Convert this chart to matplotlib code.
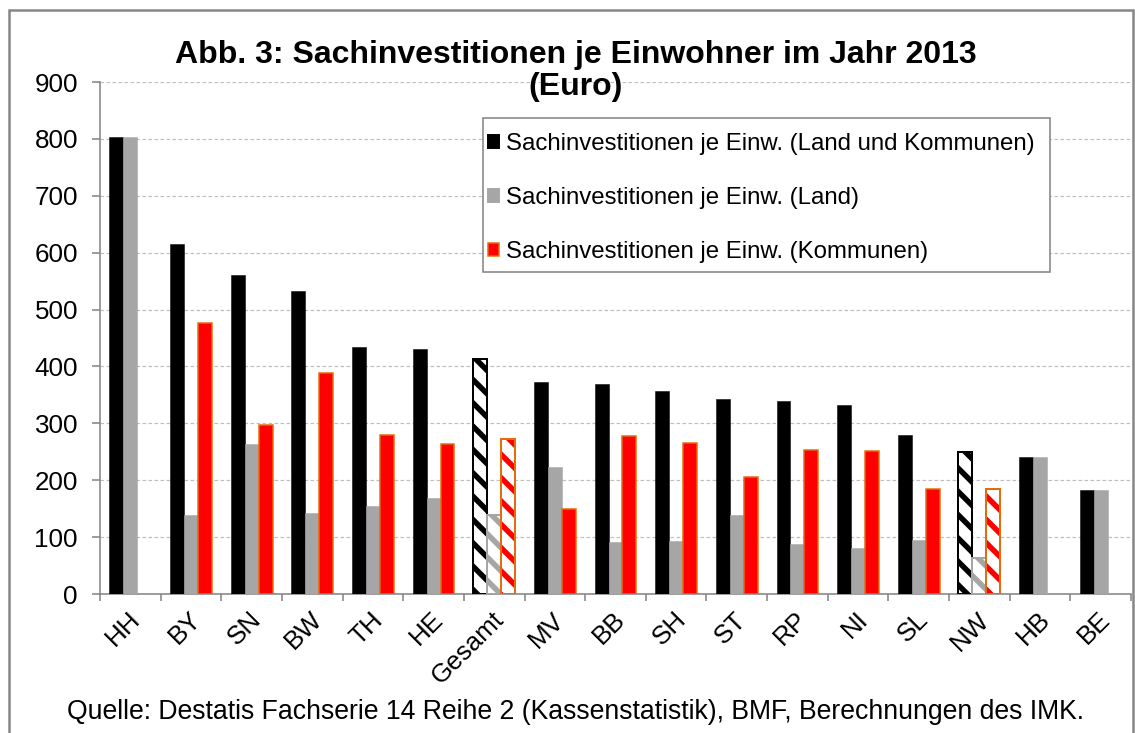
import numpy as np
import matplotlib
matplotlib.use("Agg")
import matplotlib.pyplot as plt
from matplotlib.patches import Rectangle, Patch
from matplotlib.transforms import ScaledTranslation

# ==== Daten ====
laender = ["HH", "BY", "SN", "BW", "TH", "HE", "Gesamt", "MV", "BB", "SH",
           "ST", "RP", "NI", "SL", "NW", "HB", "BE"]
land_und_kommunen = [804, 615, 561, 533, 435, 431, 413, 372, 370, 357,
                     343, 340, 333, 280, 250, 241, 183]
land = [804, 138, 263, 143, 155, 168, 139, 224, 92, 93,
        139, 88, 81, 95, 64, 241, 183]
kommunen = [np.nan, 476, 297, 388, 279, 263, 272, 150, 278, 265,
            205, 253, 252, 184, 185, np.nan, np.nan]
schraffiert = ["Gesamt", "NW"]

title = "Abb. 3: Sachinvestitionen je Einwohner im Jahr 2013\n(Euro)"
quelle = "Quelle: Destatis Fachserie 14 Reihe 2 (Kassenstatistik), BMF, Berechnungen des IMK."
labels = ["Sachinvestitionen je Einw. (Land und Kommunen)",
          "Sachinvestitionen je Einw. (Land)",
          "Sachinvestitionen je Einw. (Kommunen)"]

# ==== Stil ====
DPI = 140
W, H = 1135, 733
def px(n):
    return n * 72.0 / DPI

plt.rcParams['font.family'] = ['Liberation Sans', 'DejaVu Sans']
plt.rcParams['hatch.linewidth'] = px(5.5)

SCHWARZ = "#000000"
GRAU = "#A6A6A6"
ROT = "#FF0000"
ORANGE = "#E46C0A"
ACHSE = "#868686"

fig = plt.figure(figsize=(W / DPI, H / DPI), dpi=DPI)
ax = fig.add_axes([100 / W, 1 - 594 / H, (1131 - 100) / W, (594 - 82) / H])

x = np.arange(len(laender))
bw = 0.23
offs = [-bw, 0, bw]
serien = [land_und_kommunen, land, kommunen]
farben = [SCHWARZ, GRAU, ROT]
kanten = [SCHWARZ, GRAU, ORANGE]

for s, (werte, fc, ec, off) in enumerate(zip(serien, farben, kanten, offs)):
    for i, (name, v) in enumerate(zip(laender, werte)):
        if np.isnan(v):
            continue
        if name in schraffiert:
            # weisse Fuellung mit Schraffur in Serienfarbe
            ax.bar(x[i] + off, v, bw, color="white", edgecolor=fc,
                   hatch="\\\\", linewidth=0, zorder=3)
            ax.bar(x[i] + off, v, bw, fill=False, edgecolor=ec,
                   linewidth=px(2), zorder=4)
        else:
            ax.bar(x[i] + off, v, bw, color=fc, edgecolor=ec,
                   linewidth=px(1.5) if s == 2 else px(0.5), zorder=3)

ax.set_xlim(-0.5, len(laender) - 0.5)
ax.set_ylim(0, 900)
ax.set_yticks(np.arange(0, 901, 100))
ax.yaxis.grid(True, color="#BFBFBF", linestyle=(0, (3, 2)), linewidth=px(1.2), zorder=0)
ax.set_axisbelow(True)

for sp in ["top", "right"]:
    ax.spines[sp].set_visible(False)
for sp in ["left", "bottom"]:
    ax.spines[sp].set_color(ACHSE)
    ax.spines[sp].set_linewidth(px(1.6))

ax.set_xticks(x)
ax.set_xticks(np.arange(-0.5, len(laender), 1), minor=True)
ax.tick_params(axis="x", which="major", length=0, pad=px(22))
ax.tick_params(axis="x", which="minor", length=px(7), width=px(1.6),
               color=ACHSE, direction="out")
ax.tick_params(axis="y", length=px(8), width=px(1.6), color=ACHSE,
               pad=px(14), labelsize=px(26))
ax.set_xticklabels(laender, rotation=45, ha="right", va="center",
                   rotation_mode="anchor", fontsize=px(26))
verschiebung = ScaledTranslation(6 / DPI, 0, fig.dpi_scale_trans)
for lab in ax.get_xticklabels():
    lab.set_transform(lab.get_transform() + verschiebung)

fig.text(0.507, 1 - 71 / H, title, ha="center", va="center",
         fontsize=px(32), fontweight="bold", linespacing=1.08)
fig.text(575 / W, 1 - 712 / H, quelle, ha="center", va="center", fontsize=px(26.7))

# Rahmen um die ganze Grafik
fig.patches.append(Rectangle((9 / W, -0.05), (1133 - 9) / W, (1 - 10 / H) + 0.05,
                             transform=fig.transFigure, fill=False,
                             edgecolor=ACHSE, linewidth=px(2.5)))

# Legendenrahmen
fig.patches.append(Rectangle((483 / W, 1 - 272 / H), (1050 - 483) / W, (272 - 118) / H,
                             transform=fig.transFigure, facecolor="white",
                             edgecolor=ACHSE, linewidth=px(1.6), zorder=5))

handles = [Patch(facecolor=SCHWARZ, edgecolor=SCHWARZ),
           Patch(facecolor=GRAU, edgecolor=GRAU),
           Patch(facecolor=ROT, edgecolor=ORANGE, linewidth=px(1.5))]
leg = fig.legend(handles, labels, loc="upper left",
                 bbox_to_anchor=(488 / W, 1 - 133 / H),
                 fontsize=px(24), frameon=False,
                 handlelength=0.45, handleheight=0.45,
                 handletextpad=0.3, labelspacing=1.33, borderpad=0,
                 borderaxespad=0)
leg.set_zorder(6)

fig.savefig("out.png", dpi=DPI, facecolor="white")
